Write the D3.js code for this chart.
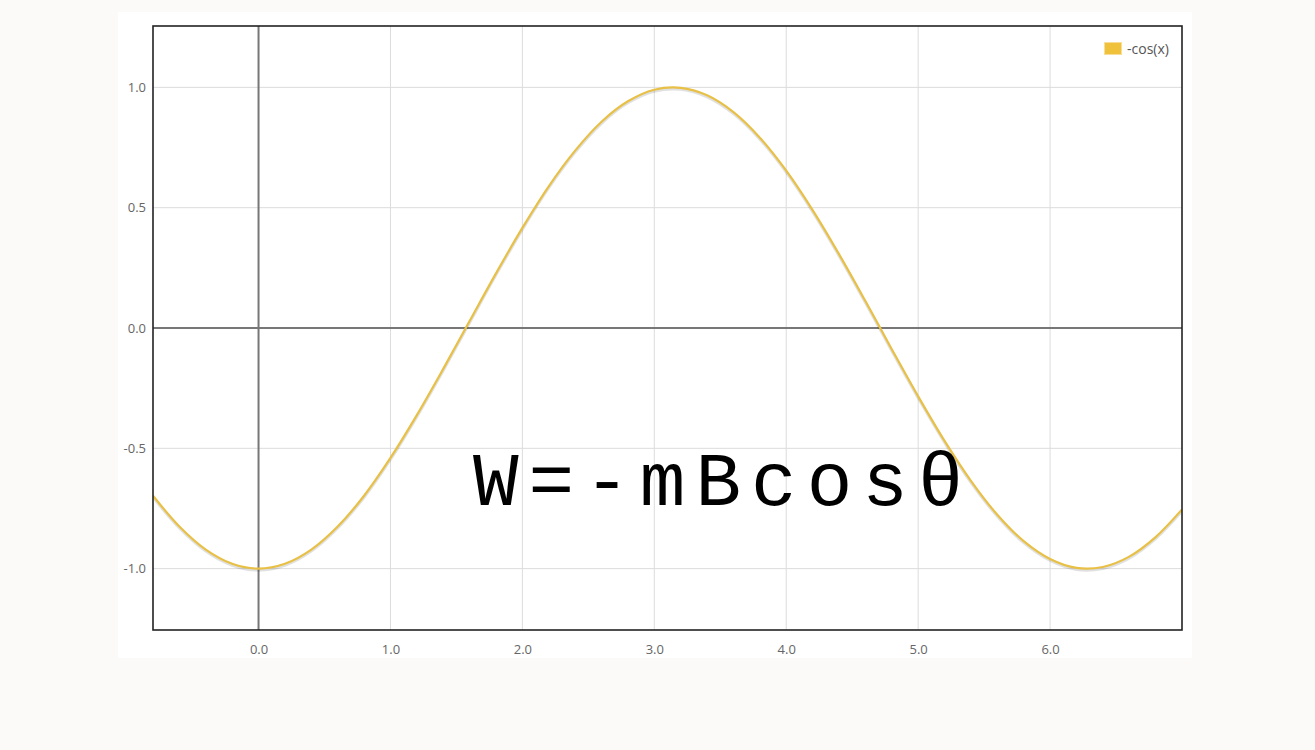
<!DOCTYPE html>
<html><head><meta charset="utf-8">
<script src="https://cdn.jsdelivr.net/npm/d3@7"></script>
<style>
html,body{margin:0;padding:0;background:#fbfaf8;}
svg{display:block;}
</style></head>
<body>
<svg id="chart" width="1315" height="750"></svg>
<script>
const seriesName = "-cos(x)";
const xValues = [-0.8,-0.6,-0.4,-0.2,0,0.2,0.4,0.6,0.8,1.0,1.2,1.4,1.6,1.8,2.0,2.2,2.4,2.6,2.8,3.0,3.2,3.4,3.6,3.8,4.0,4.2,4.4,4.6,4.8,5.0,5.2,5.4,5.6,5.8,6.0,6.2,6.4,6.6,6.8,7.0];
const yValues = [-0.697,-0.825,-0.921,-0.980,-1.000,-0.980,-0.921,-0.825,-0.697,-0.540,-0.362,-0.170,0.029,0.227,0.416,0.589,0.737,0.857,0.942,0.990,0.998,0.967,0.897,0.791,0.654,0.490,0.307,0.112,-0.088,-0.284,-0.469,-0.635,-0.776,-0.886,-0.960,-0.997,-0.993,-0.950,-0.869,-0.754];
const xTicks = [0,1,2,3,4,5,6];
const yTicks = [-1,-0.5,0,0.5,1];
const annotation = "W=-mBcosθ";

const svg = d3.select("#chart");
const L = 153, R = 1182, T = 26, B = 630;
const x = d3.scaleLinear().domain([-0.8, 7.0]).range([L, R]);
const y = d3.scaleLinear().domain([-1.255, 1.255]).range([B, T]);
const fmt = d => d3.format(".1f")(d).replace("\u2212","-");

// white panel
svg.append("rect").attr("x",118).attr("y",12).attr("width",1074).attr("height",646).attr("fill","#ffffff");

// grid
const g = svg.append("g");
g.selectAll(".vg").data(xTicks).enter().append("line")
  .attr("x1",d=>x(d)).attr("x2",d=>x(d)).attr("y1",T).attr("y2",B)
  .attr("stroke","#dcdcdc").attr("stroke-width",1);
g.selectAll(".hg").data(yTicks).enter().append("line")
  .attr("y1",d=>y(d)).attr("y2",d=>y(d)).attr("x1",L).attr("x2",R)
  .attr("stroke","#dcdcdc").attr("stroke-width",1);

// zero axes
svg.append("line").attr("x1",x(0)).attr("x2",x(0)).attr("y1",T).attr("y2",B).attr("stroke","#777").attr("stroke-width",2);
svg.append("line").attr("y1",y(0)).attr("y2",y(0)).attr("x1",L).attr("x2",R).attr("stroke","#777").attr("stroke-width",2);

// tick labels via axes
const xAxis = svg.append("g").attr("transform",`translate(0,${B})`)
  .call(d3.axisBottom(x).tickValues(xTicks).tickFormat(fmt).tickSize(0).tickPadding(15));
const yAxis = svg.append("g").attr("transform",`translate(${L},0)`)
  .call(d3.axisLeft(y).tickValues(yTicks).tickFormat(fmt).tickSize(0).tickPadding(7));
[xAxis,yAxis].forEach(a=>{
  a.select(".domain").remove();
  a.selectAll("text").attr("fill","#666").style("font-family","'Open Sans',sans-serif").style("font-size","13px");
});

// data
const data = xValues.map((v,i)=>({x:v,y:yValues[i]}));
const line = d3.line().x(d=>x(d.x)).y(d=>y(d.y)).curve(d3.curveCatmullRom);
svg.append("clipPath").attr("id","clip").append("rect").attr("x",L).attr("y",T).attr("width",R-L).attr("height",B-T);
const plot = svg.append("g").attr("clip-path","url(#clip)");
plot.append("path").datum(data).attr("d",line).attr("fill","none")
  .attr("stroke","rgba(0,0,0,0.12)").attr("stroke-width",3).attr("transform","translate(0,1.5)");
plot.append("path").datum(data).attr("d",line).attr("fill","none")
  .attr("stroke","#e8c046").attr("stroke-width",2.2);

// border
svg.append("rect").attr("x",L).attr("y",T).attr("width",R-L).attr("height",B-T)
  .attr("fill","none").attr("stroke","#222").attr("stroke-width",1.6);

// legend
svg.append("rect").attr("x",1104.5).attr("y",42.5).attr("width",17).attr("height",12)
  .attr("fill","#f0c23c").attr("stroke","#f7df9a").attr("stroke-width",1);
svg.append("text").attr("x",1127).attr("y",54).text(seriesName)
  .attr("fill","#555").style("font-family","'Open Sans',sans-serif").style("font-size","14px");

// annotation
svg.append("text").attr("x",473).attr("y",505).text(annotation)
  .attr("fill","#000")
  .style("font-family","'Courier New','Nimbus Mono PS','FreeMono',Courier,'Liberation Mono',monospace")
  .style("font-size","76px").style("letter-spacing","10px");
</script>
</body></html>
